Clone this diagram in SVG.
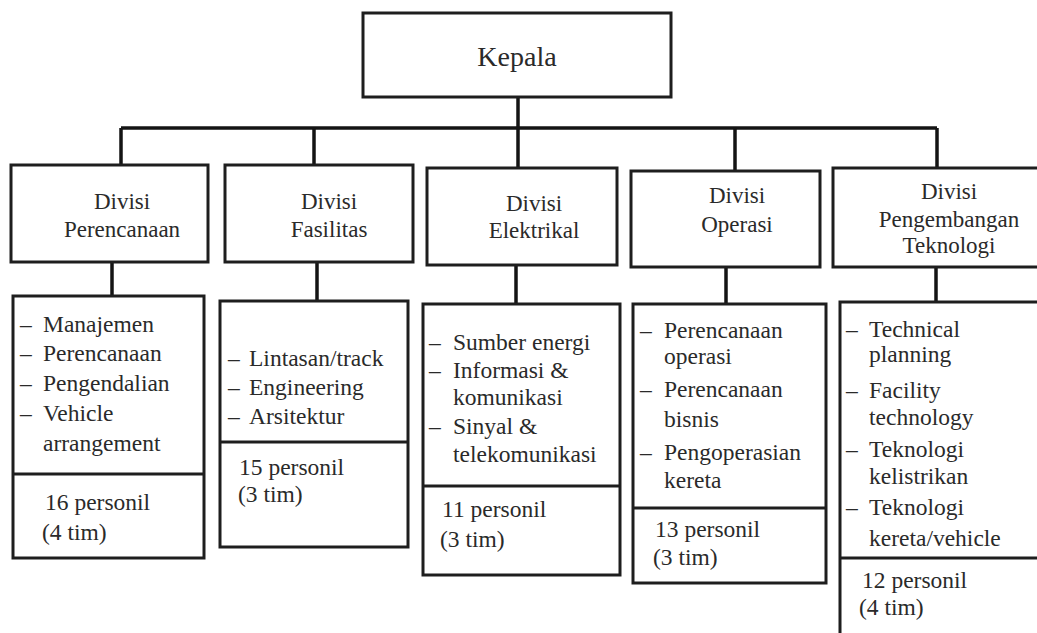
<svg xmlns="http://www.w3.org/2000/svg" width="1037" height="633" viewBox="0 0 1037 633">
  <style>
    .box { fill: #fff; stroke: #1e1e1e; stroke-width: 3; }
    .sep { stroke: #1e1e1e; stroke-width: 3; }
    .wire { fill: none; stroke: #141414; stroke-width: 3.5; }
    .head { font-size: 28px; text-anchor: middle; }
    .div { font-size: 23px; text-anchor: middle; }
    .item { font-size: 23.5px; }
  </style>
  <rect width="1037" height="633" fill="#fff"/>

  <!-- connectors -->
  <g id="connectors">
    <path class="wire" d="M518 97 V168 M121 128 H937 M121 128 V165 M314 128 V165 M735 128 V171 M937 128 V168"/>
    <path class="wire" d="M112 262 V296 M317 262 V301 M516 265 V304 M726 267 V304 M936 267 V302"/>
  </g>

  <g id="chart" font-family="Liberation Serif, Times New Roman, serif" fill="#2a2a2a">
  <!-- head -->
  <g id="kepala">
    <rect class="box" x="363" y="13" width="308" height="84"/>
    <text class="head" x="517" y="66">Kepala</text>
  </g>

  <!-- divisions -->
  <g id="div-perencanaan">
    <rect class="box" x="11" y="165" width="197" height="97"/>
    <text class="div" x="122" y="209">Divisi</text>
    <text class="div" x="122" y="237">Perencanaan</text>
  </g>
  <g id="div-fasilitas">
    <rect class="box" x="225" y="165" width="188" height="97"/>
    <text class="div" x="329" y="209">Divisi</text>
    <text class="div" x="329" y="237">Fasilitas</text>
  </g>
  <g id="div-elektrikal">
    <rect class="box" x="427" y="168" width="190" height="97"/>
    <text class="div" x="534" y="211">Divisi</text>
    <text class="div" x="534" y="238">Elektrikal</text>
  </g>
  <g id="div-operasi">
    <rect class="box" x="631" y="171" width="189" height="96"/>
    <text class="div" x="737" y="203">Divisi</text>
    <text class="div" x="737" y="232">Operasi</text>
  </g>
  <g id="div-teknologi">
    <rect class="box" x="833" y="168" width="215" height="99"/>
    <text class="div" x="949" y="199">Divisi</text>
    <text class="div" x="949" y="227">Pengembangan</text>
    <text class="div" x="949" y="253">Teknologi</text>
  </g>

  <!-- units -->
  <g id="unit-perencanaan">
    <rect class="box" x="13" y="296" width="191" height="262"/>
    <line class="sep" x1="13" y1="474" x2="204" y2="474"/>
    <text class="item" x="20" y="332">– <tspan x="43">Manajemen</tspan></text>
    <text class="item" x="20" y="361">– <tspan x="43">Perencanaan</tspan></text>
    <text class="item" x="20" y="391">– <tspan x="43">Pengendalian</tspan></text>
    <text class="item" x="20" y="421">– <tspan x="43">Vehicle</tspan></text>
    <text class="item" x="43" y="451">arrangement</text>
    <text class="item" x="45" y="510">16 personil</text>
    <text class="item" x="42" y="540">(4 tim)</text>
  </g>
  <g id="unit-fasilitas">
    <rect class="box" x="220" y="301" width="188" height="246"/>
    <line class="sep" x1="220" y1="442" x2="408" y2="442"/>
    <text class="item" x="228" y="366">– <tspan x="249">Lintasan/track</tspan></text>
    <text class="item" x="228" y="395">– <tspan x="249">Engineering</tspan></text>
    <text class="item" x="228" y="424">– <tspan x="249">Arsitektur</tspan></text>
    <text class="item" x="239" y="475">15 personil</text>
    <text class="item" x="238" y="502">(3 tim)</text>
  </g>
  <g id="unit-elektrikal">
    <rect class="box" x="423" y="304" width="197" height="271"/>
    <line class="sep" x1="423" y1="486" x2="620" y2="486"/>
    <text class="item" x="429" y="350">– <tspan x="453">Sumber energi</tspan></text>
    <text class="item" x="429" y="378">– <tspan x="453">Informasi &amp;</tspan></text>
    <text class="item" x="453" y="405">komunikasi</text>
    <text class="item" x="429" y="434">– <tspan x="453">Sinyal &amp;</tspan></text>
    <text class="item" x="453" y="462">telekomunikasi</text>
    <text class="item" x="442" y="517">11 personil</text>
    <text class="item" x="440" y="547">(3 tim)</text>
  </g>
  <g id="unit-operasi">
    <rect class="box" x="633" y="304" width="193" height="279"/>
    <line class="sep" x1="633" y1="508" x2="826" y2="508"/>
    <text class="item" x="640" y="338">– <tspan x="664">Perencanaan</tspan></text>
    <text class="item" x="664" y="364">operasi</text>
    <text class="item" x="640" y="397">– <tspan x="664">Perencanaan</tspan></text>
    <text class="item" x="664" y="427">bisnis</text>
    <text class="item" x="640" y="460">– <tspan x="664">Pengoperasian</tspan></text>
    <text class="item" x="664" y="488">kereta</text>
    <text class="item" x="655" y="537">13 personil</text>
    <text class="item" x="653" y="565">(3 tim)</text>
  </g>
  <g id="unit-teknologi">
    <rect class="box" x="840" y="302" width="210" height="345"/>
    <line class="sep" x1="840" y1="558" x2="1050" y2="558"/>
    <text class="item" x="846" y="337">– <tspan x="869">Technical</tspan></text>
    <text class="item" x="869" y="362">planning</text>
    <text class="item" x="846" y="398">– <tspan x="869">Facility</tspan></text>
    <text class="item" x="869" y="425">technology</text>
    <text class="item" x="846" y="457">– <tspan x="869">Teknologi</tspan></text>
    <text class="item" x="869" y="484">kelistrikan</text>
    <text class="item" x="846" y="515">– <tspan x="869">Teknologi</tspan></text>
    <text class="item" x="869" y="546">kereta/vehicle</text>
    <text class="item" x="862" y="588">12 personil</text>
    <text class="item" x="859" y="615">(4 tim)</text>
  </g>
  </g>
</svg>
